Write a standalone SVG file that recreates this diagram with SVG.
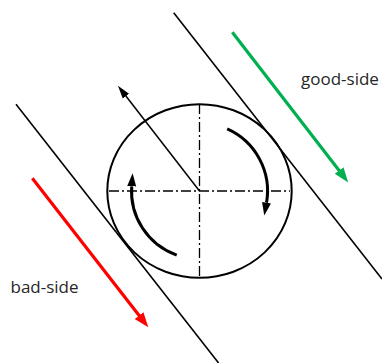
<svg xmlns="http://www.w3.org/2000/svg" width="382" height="363" viewBox="0 0 382 363">
  <style>
    .tan { stroke: #000; stroke-width: 1.6; fill: none; }
    .axis { stroke: #000; stroke-width: 1.3; fill: none; stroke-dasharray: 10 3 2 3; }
    .rot { stroke: #000; stroke-width: 3; fill: none; }
    .lbl { font-family: "Open Sans", "Liberation Sans", sans-serif; font-size: 17px; fill: #262626; }
  </style>
  <defs>
    <marker id="headBlack" markerUnits="userSpaceOnUse" markerWidth="14" markerHeight="12" refX="0" refY="6" orient="auto">
      <path d="M0,1.5 L13,6 L0,10.5 Z" fill="#000"/>
    </marker>
    <marker id="headThin" markerUnits="userSpaceOnUse" markerWidth="14" markerHeight="12" refX="1" refY="6" orient="auto">
      <path d="M0,2 L13,6 L0,10 Z" fill="#000"/>
    </marker>
    <marker id="headGreen" markerUnits="userSpaceOnUse" markerWidth="16" markerHeight="14" refX="1" refY="7" orient="auto">
      <path d="M0,1.5 L15,7 L0,12.5 Z" fill="#00B050"/>
    </marker>
    <marker id="headRed" markerUnits="userSpaceOnUse" markerWidth="16" markerHeight="14" refX="1" refY="7" orient="auto">
      <path d="M0,1.5 L15,7 L0,12.5 Z" fill="#FF0000"/>
    </marker>
  </defs>

  <g id="tangent-lines">
    <line class="tan" x1="173.7" y1="12.7" x2="382" y2="279"/>
    <line class="tan" x1="16" y1="104.3" x2="218.6" y2="363"/>
  </g>

  <g id="wheel">
    <ellipse cx="199.5" cy="191" rx="92.2" ry="86.8" fill="none" stroke="#000" stroke-width="2"/>
    <line class="axis" x1="109" y1="191" x2="290" y2="191"/>
    <line class="axis" x1="199.5" y1="104" x2="199.5" y2="278"/>
  </g>

  <g id="connectors">
    <line x1="199.5" y1="191" x2="125.3" y2="95.3" stroke="#000" stroke-width="1.5" marker-end="url(#headThin)"/>
    <path class="rot" d="M227.2,128.9 A68,68 0 0 1 266.5,202.8" marker-end="url(#headBlack)"/>
    <path class="rot" d="M176.7,255.1 A68,68 0 0 1 131.7,186.3" marker-end="url(#headBlack)"/>
    <line x1="232.3" y1="32.3" x2="339.7" y2="171.3" stroke="#00B050" stroke-width="3.2" marker-end="url(#headGreen)"/>
    <line x1="32.3" y1="178.3" x2="139.7" y2="316.3" stroke="#FF0000" stroke-width="3.2" marker-end="url(#headRed)"/>
  </g>

  <g id="label-good">
    <text class="lbl" x="301" y="85">good-side</text>
  </g>
  <g id="label-bad">
    <text class="lbl" x="10.5" y="293">bad-side</text>
  </g>
</svg>
